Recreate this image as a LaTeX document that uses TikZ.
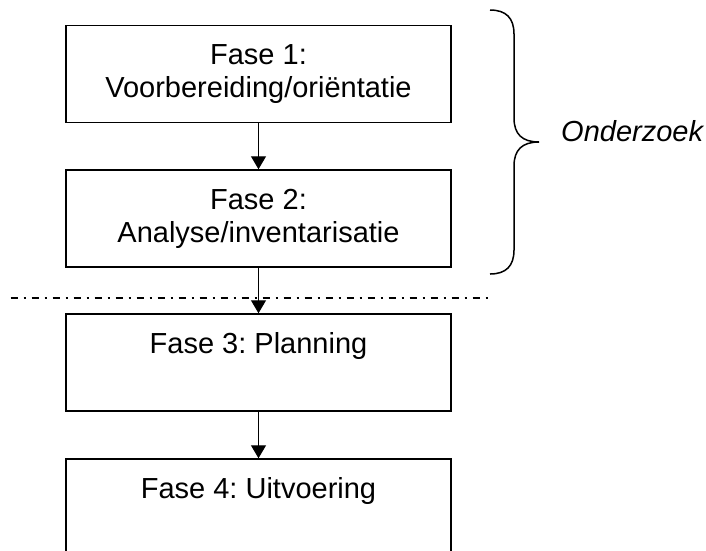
\documentclass[tikz,border=0pt]{standalone}
\usepackage{fontspec}
\setmainfont{Liberation Sans}
\usetikzlibrary{arrows.meta}
\newcommand{\boxfont}{\fontsize{29pt}{33.4pt}\selectfont\frenchspacing}
\newcommand{\bstrut}{\rule[-6pt]{0pt}{26.5pt}}
\tikzset{
  phasebox/.style={draw, line width=1.5pt, minimum width=385pt, minimum height=97pt,
    inner sep=0pt, align=center, font=\boxfont},
  flowarrow/.style={line width=1.2pt, -{Triangle[length=13pt,width=15pt]}},
  sepline/.style={line width=2pt, dash pattern=on 7pt off 6pt on 2pt off 6pt},
  bracepath/.style={line width=1.5pt},
}
\begin{document}
\begin{tikzpicture}[x=1pt,y=-1pt]
\useasboundingbox (0,0) rectangle (706,550);
\clip (0,0) rectangle (706,550);
\node[phasebox] (f1) at (258.5,74) {\bstrut Fase 1:\\\bstrut Voorbereiding/oriëntatie};
\node[phasebox] (f2) at (258.5,218.5) {\bstrut Fase 2:\\\bstrut Analyse/inventarisatie};
\node[phasebox] (f3) at (258.5,362.5) {\bstrut Fase 3: Planning\\\bstrut};
\node[phasebox] (f4) at (258.5,507.5) {\bstrut Fase 4: Uitvoering\\\bstrut};
\coordinate (sl) at (10.5,297.5);
\coordinate (sr) at (490,297.5);
\draw[sepline] (sl) -- (sr);
\draw[flowarrow] (f1.south) -- (f2.north);
\draw[flowarrow] (f2.south) -- (f3.north);
\draw[flowarrow] (f3.south) -- (f4.north);
\draw[bracepath] (490,10) .. controls (506,10) and (514,18) .. (514,34) -- (514,118)
  .. controls (514,134) and (522,142) .. (539,142)
  .. controls (522,142) and (514,150) .. (514,166) -- (514,250)
  .. controls (514,266) and (506,274) .. (490,274);
\node[anchor=base west, inner sep=0pt, font=\boxfont\itshape] (ond) at (561,141) {Onderzoek};
\end{tikzpicture}
\end{document}
